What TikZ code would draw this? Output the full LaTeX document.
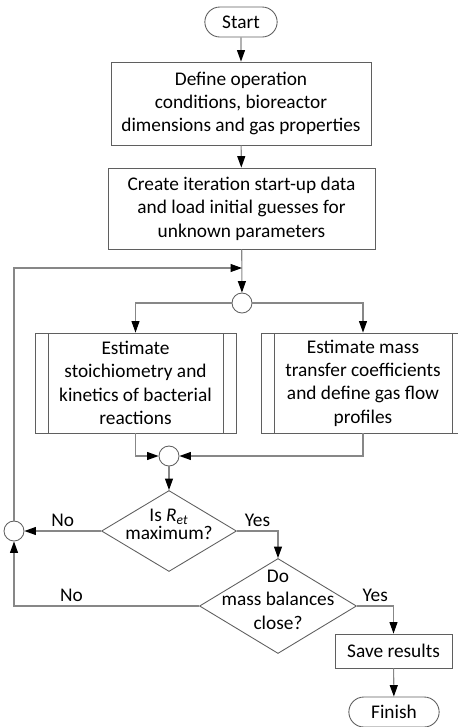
\documentclass[tikz,border=0pt]{standalone}
\usepackage{fontspec}
\setmainfont{Carlito}
\usepackage{tikz}
\usetikzlibrary{shapes.geometric, shapes.misc, arrows.meta, positioning, calc}
\definecolor{boxline}{RGB}{95,95,95}
\definecolor{flowline}{RGB}{135,135,135}
\newcommand{\flowfont}{\fontsize{11}{13.3}\selectfont}
\tikzset{
  terminal/.style={rounded rectangle, draw=boxline, minimum width=1.68cm,
    minimum height=0.6cm, font=\flowfont, line width=0.5pt},
  process/.style={rectangle, draw=boxline, align=center,
    font=\flowfont, line width=0.5pt},
  subproc/.style={process, path picture={
    \draw[boxline, line width=0.5pt]
      ([xshift=0.26cm]path picture bounding box.north west) --
      ([xshift=0.26cm]path picture bounding box.south west);
    \draw[boxline, line width=0.5pt]
      ([xshift=-0.26cm]path picture bounding box.north east) --
      ([xshift=-0.26cm]path picture bounding box.south east);}},
  decision/.style={diamond, draw=boxline, inner sep=0pt,
    font=\flowfont, line width=0.5pt},
  junction/.style={circle, draw=boxline, minimum size=0.4cm,
    inner sep=0pt, line width=0.5pt},
  arrow/.style={-{Triangle[length=2.3mm, width=1.6mm, color=black]},
    color=flowline, line width=0.6pt},
  line/.style={color=flowline, line width=0.6pt},
  lbl/.style={font=\flowfont, text=black, inner sep=2pt}
}

\begin{document}
\begin{tikzpicture}
  \useasboundingbox (0,0) rectangle (9.16,-14.54);

  % Set-up steps
  \node[terminal] (start) at (4.82,-0.44) {Start};
  \node[process, minimum width=5.2cm, minimum height=1.66cm] (define) at (4.82,-2.07)
    {Define operation\\ conditions, bioreactor\\dimensions and gas properties};
  \node[process, minimum width=5.34cm, minimum height=1.62cm] (initial) at (4.83,-4.17)
    {Create iteration start-up data\\and load initial guesses for\\unknown parameters};

  % Parallel estimations
  \node[junction] (split) at (4.84,-6.06) {};
  \node[subproc, minimum width=4.02cm, minimum height=2.0cm] (stoich) at (2.71,-7.66)
    {Estimate\\stoichiometry and\\kinetics of bacterial\\reactions};
  \node[subproc, minimum width=4.08cm, minimum height=2.0cm] (transfer) at (7.26,-7.66)
    {Estimate mass\\transfer coefficients\\and define gas flow\\profiles};
  \node[junction] (join) at (3.38,-9.12) {};

  % Decisions
  \node[decision, aspect=1.67, minimum width=2.7cm, minimum height=1.62cm] (retmax) at (3.38,-10.62)
    {\smash{\begin{tabular}[c]{@{}c@{}}Is \textit{R}\textsubscript{\textit{et}}\\[-3pt] maximum?\end{tabular}}};
  \node[decision, aspect=1.65, minimum width=3.14cm, minimum height=1.9cm] (balance) at (5.56,-12.12)
    {\smash{\begin{tabular}[c]{@{}c@{}}Do\\mass balances\\close?\end{tabular}}};
  \node[junction] (loop) at (0.28,-10.62) {};

  % End
  \node[process, minimum width=2.34cm, minimum height=0.68cm] (save) at (7.87,-13.02) {Save results};
  \node[terminal, minimum width=2.04cm] (finish) at (7.88,-14.24) {Finish};

  \coordinate (looptop) at (0.28,-5.36);
  \coordinate (loopend) at (4.84,-5.36);

  % Connectors
  \draw[arrow] (start) -- (define);
  \draw[arrow] (define) -- (initial);
  \draw[arrow] (initial) -- (split);
  \draw[arrow] (split) -| (stoich);
  \draw[arrow] (split) -| (transfer);
  \draw[arrow] (stoich) |- (join);
  \draw[arrow] (transfer) |- (join);
  \draw[arrow] (join) -- (retmax);
  \draw[arrow] (retmax) -- node[lbl, above] {No} (loop);
  \draw[arrow] (retmax.east) -| node[lbl, pos=0.25, above] {Yes} (balance.north);
  \draw[arrow] (balance.west) -| node[lbl, pos=0.345, above] {No} (loop.south);
  \draw[arrow] (balance.east) -| node[lbl, pos=0.25, above] {Yes} (save.north);
  \draw[arrow] (save) -- (finish);
  \draw[arrow] (loop.north) -- (looptop) -- (loopend);
\end{tikzpicture}
\end{document}
